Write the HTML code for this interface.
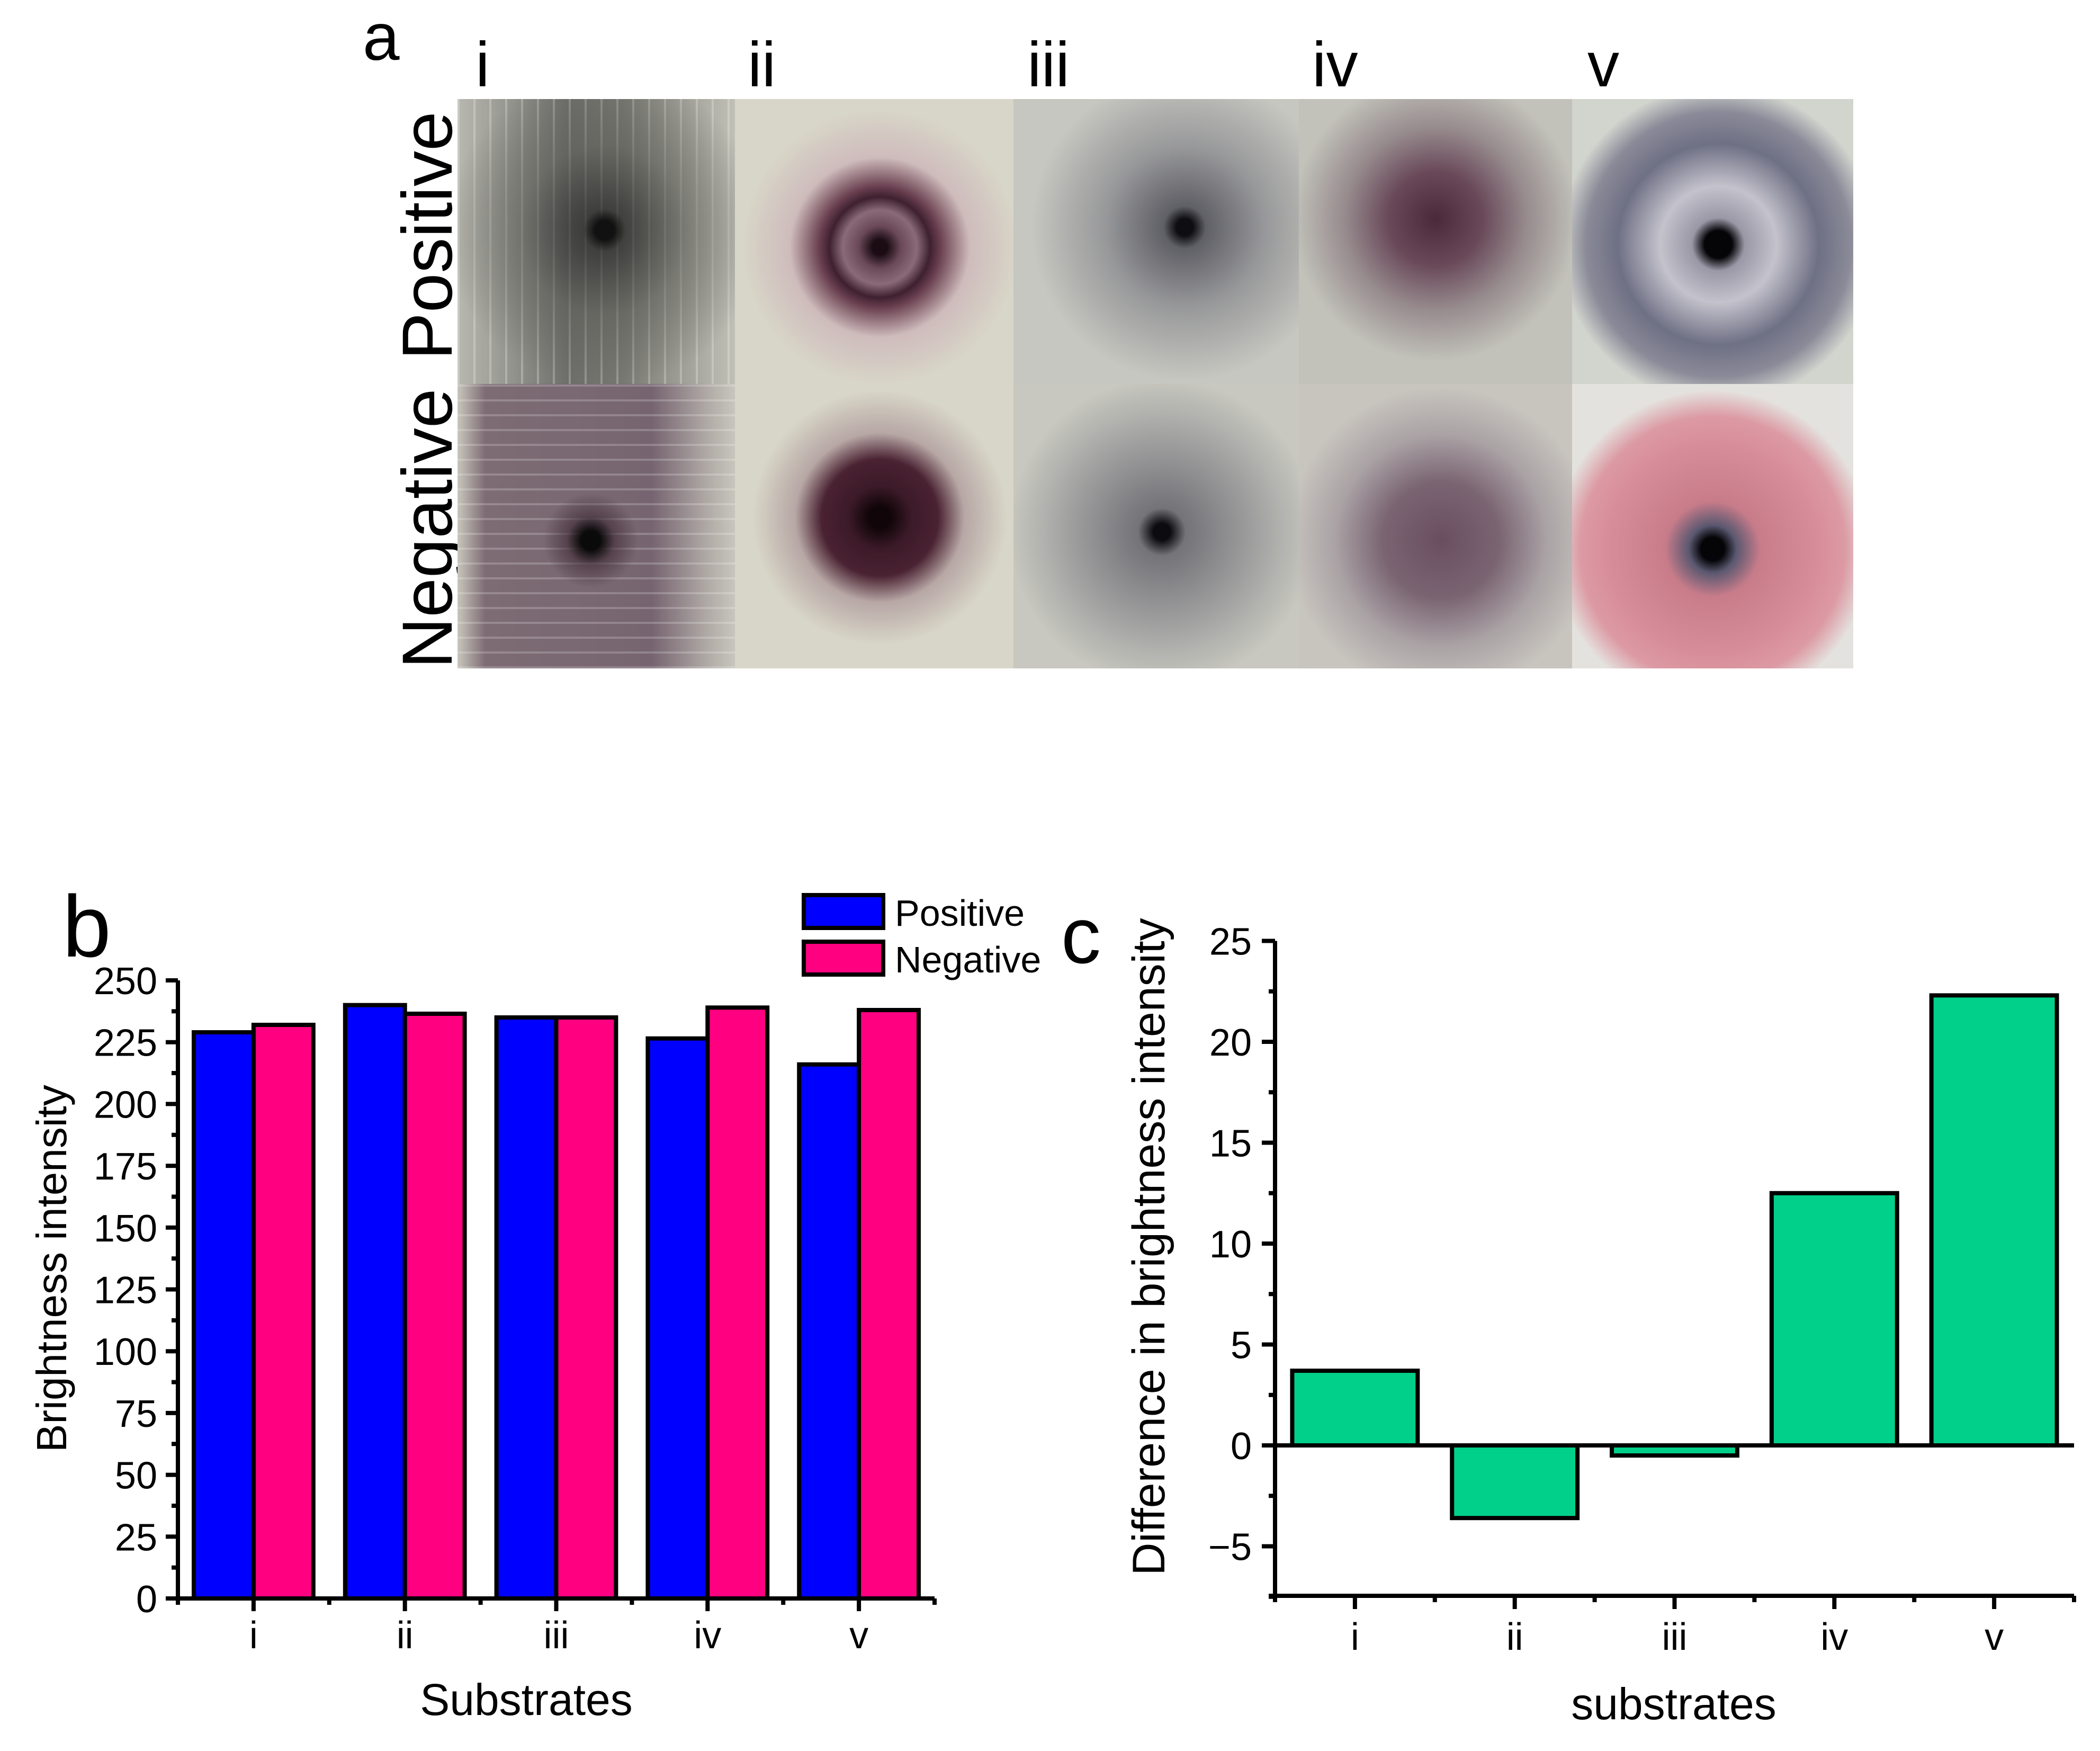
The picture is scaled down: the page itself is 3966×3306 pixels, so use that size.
<!DOCTYPE html>
<html><head><meta charset="utf-8">
<style>
html,body{margin:0;padding:0;background:#fff;}
#root{position:relative;width:3966px;height:3306px;overflow:hidden;background:#fff;font-family:"Liberation Sans",sans-serif;}
.lbl{position:absolute;font-family:"Liberation Sans",sans-serif;color:#000;line-height:1;}
.photo{position:absolute;overflow:hidden;}
svg text{font-family:"Liberation Sans",sans-serif;fill:#000;}
</style></head>
<body>
<div id="root">
  <div class="lbl" style="left:685px;top:8px;font-size:125px;">a</div>
  <div class="lbl" style="left:898px;top:62px;font-size:120px;">i</div>
  <div class="lbl" style="left:1412px;top:62px;font-size:120px;">ii</div>
  <div class="lbl" style="left:1940px;top:62px;font-size:120px;">iii</div>
  <div class="lbl" style="left:2478px;top:62px;font-size:120px;">iv</div>
  <div class="lbl" style="left:2998px;top:62px;font-size:120px;">v</div>
  <div class="lbl" style="left:808px;top:445px;font-size:134px;transform:translate(-50%,-50%) rotate(-90deg);white-space:nowrap;">Positive</div>
  <div class="lbl" style="left:808px;top:998px;font-size:134px;transform:translate(-50%,-50%) rotate(-90deg);white-space:nowrap;">Negative</div>

  <div class="photo" style="left:864px;top:187px;width:524px;height:538px;background:radial-gradient(circle at 53% 46%,#111 0,#111 18px,rgba(40,40,40,0.7) 40px,rgba(90,90,85,0.5) 160px,rgba(0,0,0,0) 300px),repeating-linear-gradient(90deg,rgba(255,255,255,0.25) 0 4px,rgba(0,0,0,0) 4px 30px),linear-gradient(90deg,#b8b8b0,#6e6e6a 40%,#7a7a74 60%,#c0c0b6);"></div>
  <div class="photo" style="left:1388px;top:187px;width:526px;height:538px;background:radial-gradient(circle at 52% 52%,#1a0c12 0,#1a0c12 14px,#6a4858 40px,#8a6a78 70px,#3e2030 95px,#6a4050 115px,rgba(200,170,180,0.6) 170px,rgba(214,210,198,0) 260px),#d8d6c8;"></div>
  <div class="photo" style="left:1914px;top:187px;width:539px;height:538px;background:radial-gradient(circle at 60% 45%,#0e0e12 0,#0e0e12 16px,rgba(70,70,80,0.8) 40px,rgba(120,120,128,0.6) 150px,rgba(180,180,178,0) 290px),#c6c7c0;"></div>
  <div class="photo" style="left:2453px;top:187px;width:516px;height:538px;background:radial-gradient(circle at 50% 42%,#4a2a3a 0,#6a4a5a 90px,rgba(120,100,110,0.6) 170px,rgba(190,190,184,0) 270px),#c2c2ba;"></div>
  <div class="photo" style="left:2969px;top:187px;width:531px;height:538px;background:radial-gradient(circle at 52% 51%,#050508 0,#050508 26px,#9a98a6 50px,#c4c2cc 110px,#6e7084 190px,#8a8a98 250px,rgba(208,210,204,0) 300px),#d2d4ce;"></div>

  <div class="photo" style="left:864px;top:725px;width:524px;height:537px;background:radial-gradient(circle at 48% 55%,#0a0a0a 0,#0a0a0a 18px,rgba(60,40,50,0.6) 45px,rgba(0,0,0,0) 90px),repeating-linear-gradient(0deg,rgba(255,255,255,0.2) 0 4px,rgba(0,0,0,0) 4px 28px),linear-gradient(90deg,#c8c6bc 0,#7e6c74 10%,#766470 70%,#b0aaa6 90%,#c8c6bc);"></div>
  <div class="photo" style="left:1388px;top:725px;width:526px;height:537px;background:radial-gradient(circle at 52% 47%,#100508 0,#100508 20px,#3c1a28 60px,#4a2232 110px,rgba(150,120,130,0.5) 160px,rgba(214,210,198,0) 240px),#d8d6c8;"></div>
  <div class="photo" style="left:1914px;top:725px;width:539px;height:537px;background:radial-gradient(circle at 52% 52%,#0c0c10 0,#0c0c10 16px,rgba(80,80,90,0.7) 45px,rgba(130,130,136,0.6) 170px,rgba(190,190,186,0) 290px),#c8c8c0;"></div>
  <div class="photo" style="left:2453px;top:725px;width:516px;height:537px;background:radial-gradient(circle at 52% 55%,#6a4e60 0,#7a6472 110px,rgba(150,140,148,0.6) 200px,rgba(200,196,190,0) 290px),#c8c4be;"></div>
  <div class="photo" style="left:2969px;top:725px;width:531px;height:537px;background:radial-gradient(circle at 50% 58%,#050508 0,#050508 22px,#5a5870 45px,#c87c8a 90px,#d88e9a 200px,#dc9aa4 250px,rgba(228,224,220,0) 300px),#e4e2de;"></div>

  <svg id="charts" width="3966" height="3306" style="position:absolute;left:0;top:0;"></svg>
</div>
<script>
// Chart b data
const catsB = ["i","ii","iii","iv","v"];
const positiveB = [229, 240, 235, 226.5, 216];
const negativeB = [232, 236.5, 235, 239, 238];
const ticksB = [0,25,50,75,100,125,150,175,200,225,250];
// Chart c data
const catsC = ["i","ii","iii","iv","v"];
const diffC = [3.7, -3.6, -0.5, 12.5, 22.3];
const ticksC = [-5,0,5,10,15,20,25];

const NS = "http://www.w3.org/2000/svg";
const svg = document.getElementById("charts");
function mk(tag, attrs, parent){
  const e = document.createElementNS(NS, tag);
  for (const k in attrs) e.setAttribute(k, attrs[k]);
  (parent||svg).appendChild(e);
  return e;
}

// ---------- Chart b ----------
const gB = mk("g", {});


const bL = 336, bR = 1765, bStep = (bR - bL) / catsB.length;
const bY0 = 3018, bYTop = 1851;
function bx(i){ return bL + (i + 0.5) * bStep; }
function by(v){ return bY0 - (v / 250) * (bY0 - bYTop); }
const bw = 0.395 * bStep;
catsB.forEach((c, i) => {
  const r1 = mk("rect", {x: bx(i) - bw, y: by(positiveB[i]), width: bw, height: by(0) - by(positiveB[i]), fill: "#0000ff", stroke: "#000", "stroke-width": 8}, gB);
  
  
  const r2 = mk("rect", {x: bx(i), y: by(negativeB[i]), width: bw, height: by(0) - by(negativeB[i]), fill: "#ff0080", stroke: "#000", "stroke-width": 8}, gB);
  
  
});
const axB = mk("path", {d: `M${bL} ${bYTop} V${bY0 + 12} M${bL - 22} ${bY0} H${bR}`, stroke: "#000", "stroke-width": 8, fill: "none"}, gB);


ticksB.forEach((t, k) => {
  mk("line", {x1: bL - 23, x2: bL, y1: by(t), y2: by(t), stroke: "#000", "stroke-width": 8}, gB);
  if (k < ticksB.length - 1) mk("line", {x1: bL - 12, x2: bL, y1: by(t + 12.5), y2: by(t + 12.5), stroke: "#000", "stroke-width": 8}, gB);
  const tx = mk("text", {x: 297, y: by(t) + 26, "font-size": 72, "text-anchor": "end"}, gB);
  tx.textContent = t;
  
  
});
catsB.forEach((c, i) => {
  mk("line", {x1: bx(i), x2: bx(i), y1: bY0, y2: bY0 + 24, stroke: "#000", "stroke-width": 8}, gB);
  mk("line", {x1: bL + (i + 1) * bStep, x2: bL + (i + 1) * bStep, y1: bY0, y2: bY0 + 12, stroke: "#000", "stroke-width": 8}, gB);
  const tx = mk("text", {x: bx(i), y: 3112, "font-size": 72, "text-anchor": "middle"}, gB);
  tx.textContent = c;
  
  
});
const xtB = mk("text", {x: 994, y: 3238, "font-size": 84, "text-anchor": "middle"}, gB);
xtB.textContent = "Substrates";


const ytB = mk("text", {x: 0, y: 0, "font-size": 80, "text-anchor": "middle", transform: "translate(125 2395) rotate(-90)"}, gB);
ytB.textContent = "Brightness intensity";


const lbB = mk("text", {x: 118, y: 1806, "font-size": 165}, gB);
lbB.textContent = "b";


// legend
const lg1 = mk("rect", {x: 1518, y: 1690, width: 150, height: 62, fill: "#0000ff", stroke: "#000", "stroke-width": 8}, gB);


const lg2 = mk("rect", {x: 1518, y: 1778, width: 150, height: 62, fill: "#ff0080", stroke: "#000", "stroke-width": 8}, gB);


const lt1 = mk("text", {x: 1690, y: 1748, "font-size": 70}, gB);
lt1.textContent = "Positive";


const lt2 = mk("text", {x: 1690, y: 1836, "font-size": 70}, gB);
lt2.textContent = "Negative";



// ---------- Chart c ----------
const gC = mk("g", {});


const cL = 2408, cR = 3917, cStep = (cR - cL) / catsC.length;
const cY0 = 2729, cPer = 38.1, cBot = 3013;
function cx(i){ return cL + (i + 0.5) * cStep; }
function cy(v){ return cY0 - v * cPer; }
const cw = 0.785 * cStep;
catsC.forEach((c, i) => {
  const v = diffC[i];
  const r = mk("rect", {x: cx(i) - cw / 2, y: Math.min(cy(v), cy(0)), width: cw, height: Math.abs(cy(v) - cy(0)), fill: "#00d08a", stroke: "#000", "stroke-width": 8}, gC);
  
  
});
const axC = mk("path", {d: `M${cL} ${cy(25)} V${cBot + 12} M${cL - 12} ${cBot} H${cR} M${cL - 25} ${cy(0)} H${cR}`, stroke: "#000", "stroke-width": 8, fill: "none"}, gC);


ticksC.forEach((t) => {
  mk("line", {x1: cL - 25, x2: cL, y1: cy(t), y2: cy(t), stroke: "#000", "stroke-width": 8}, gC);
  mk("line", {x1: cL - 12, x2: cL, y1: cy(t - 2.5), y2: cy(t - 2.5), stroke: "#000", "stroke-width": 8}, gC);
  const tx = mk("text", {x: 2364, y: cy(t) + 26, "font-size": 72, "text-anchor": "end"}, gC);
  tx.textContent = t < 0 ? "\u2212" + Math.abs(t) : t;
  
  
});
catsC.forEach((c, i) => {
  mk("line", {x1: cx(i), x2: cx(i), y1: cBot, y2: cBot + 25, stroke: "#000", "stroke-width": 8}, gC);
  mk("line", {x1: cL + (i + 1) * cStep, x2: cL + (i + 1) * cStep, y1: cBot, y2: cBot + 12, stroke: "#000", "stroke-width": 8}, gC);
  const tx = mk("text", {x: cx(i), y: 3115, "font-size": 72, "text-anchor": "middle"}, gC);
  tx.textContent = c;
  
  
});
const xtC = mk("text", {x: 3161, y: 3246, "font-size": 84, "text-anchor": "middle"}, gC);
xtC.textContent = "substrates";


const ytC = mk("text", {x: 0, y: 0, "font-size": 86, "text-anchor": "middle", transform: "translate(2199 2354) rotate(-90)"}, gC);
ytC.textContent = "Difference in brightness intensity";


const lbC = mk("text", {x: 2004, y: 1818, "font-size": 150}, gC);
lbC.textContent = "c";


</script>
</body></html>
